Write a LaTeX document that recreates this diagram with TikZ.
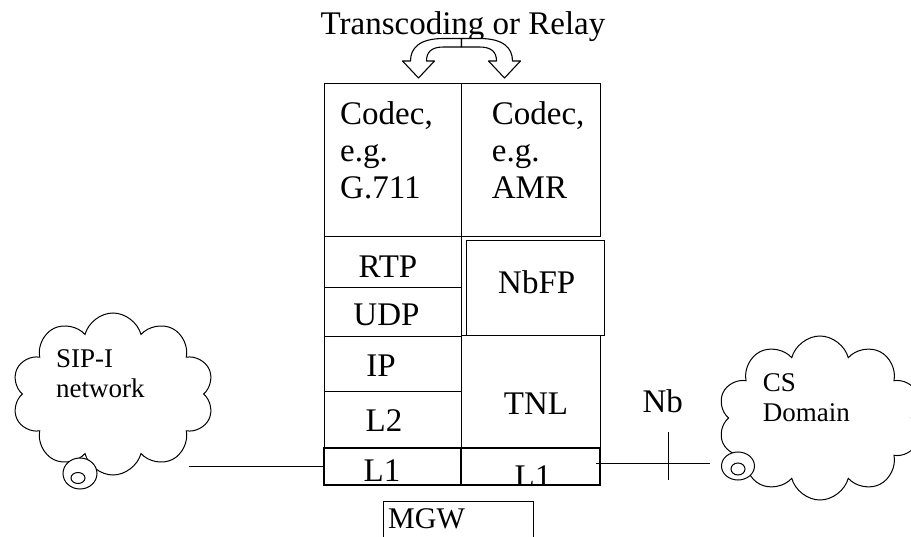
\documentclass[tikz,border=0pt]{standalone}
\usepackage{fontspec}
\setmainfont{Liberation Serif}
\usetikzlibrary{shapes.symbols}
\begin{document}
\begin{tikzpicture}[x=1pt,y=-1pt,
  box/.style={draw, line width=1pt, inner sep=0pt, minimum width=137pt},
  big/.style={font=\fontsize{33}{37}\selectfont, inner sep=0pt},
  small/.style={font=\fontsize{27}{30}\selectfont, inner sep=0pt},
  cloudy/.style={cloud, cloud puffs=10, cloud ignores aspect, draw, line width=1pt, fill=white, inner sep=0pt},
  curl/.style={draw, line width=1pt, fill=white},
  wire/.style={line width=1pt},
  blockarrow/.style={draw, line width=1.1pt, fill=white, line join=round}]
\useasboundingbox (0,0) rectangle (911,537);

% title and block arrows
\node[big, anchor=base] (title) at (463,35) {Transcoding or Relay};
\foreach \s in {1,-1}{
  \begin{scope}[shift={(461.5,0)}, xscale=\s]
    \path[blockarrow] (0,38.5) -- (-18,38.5) .. controls (-42,38.5) and (-51,48) .. (-51,61)
      -- (-59,61) -- (-43,78) -- (-27,61) -- (-35,61)
      .. controls (-35,52) and (-30,47) .. (-18,47) -- (0,47) -- cycle;
  \end{scope}
}

% protocol stack boxes
\node[box, minimum height=153pt] (codecL) at (392.5,160.5) {};
\node[box, minimum width=139pt, minimum height=153pt] (codecR) at (530.5,160.5) {};
\node[box, minimum height=51pt] (rtp) at (392.5,262.5) {};
\node[box, minimum height=49pt] (udp) at (392.5,312.5) {};
\node[box, minimum height=55pt] (ip) at (392.5,364.5) {};
\node[box, minimum height=56pt] (l2) at (392.5,420) {};
\node[box, minimum height=37pt, line width=1.3pt] (l1L) at (392.5,466.5) {};
\node[box, minimum width=138pt, minimum height=95pt] (nbfp) at (535,288.5) {};
\node[box, minimum width=139pt, minimum height=112pt] (tnl) at (530.5,392) {};
\node[box, minimum width=139pt, minimum height=37pt, line width=1.3pt] (l1R) at (530.5,466.5) {};
\node[box, minimum width=150pt, minimum height=44pt] (mgw) at (458,523) {};

% texts in boxes
\node[big, anchor=north west, align=left] (tcodecL) at (340,101.5) {Codec,\\e.g.\\G.711};
\node[big, anchor=north west, align=left] (tcodecR) at (491.7,101.5) {Codec,\\e.g.\\AMR};
\node[big, anchor=base] (trtp) at (388,278) {RTP};
\node[big, anchor=base] (tudp) at (386.5,326) {UDP};
\node[big, anchor=base] (tip) at (381,376.7) {IP};
\node[big, anchor=base] (tl2) at (384,431.7) {L2};
\node[big, anchor=base] (tl1L) at (382,481.7) {L1};
\node[big, anchor=base] (tnbfp) at (536.7,294) {NbFP};
\node[big, anchor=base] (ttnl) at (536,415) {TNL};
\begin{scope}
  \clip (461,448) rectangle (600,485);
  \node[big, anchor=base] (tl1R) at (533,487) {L1};
\end{scope}
\node[big, anchor=base west, font=\fontsize{30}{34}\selectfont] (tmgw) at (388,528) {MGW};

% clouds
\node[cloudy, minimum width=202pt, minimum height=162pt] (sip) at (113,394) {};
\node[cloudy, minimum width=204pt, minimum height=164pt] (cs) at (820,418) {};
\draw[curl] (80,473.5) ellipse [x radius=17, y radius=15.5];
\draw[curl] (78,478) ellipse [x radius=7, y radius=5.5];
\draw[curl] (738,466) ellipse [x radius=16.5, y radius=14];
\draw[curl] (738,469) ellipse [x radius=7, y radius=6];
\node[small, anchor=north west, align=left] (tsip) at (56,349.7) {SIP-I\\network};
\node[small, anchor=north west, align=left] (tcs) at (762.7,373.7) {CS\\Domain};

% connections
\coordinate (sipend) at (189,466);
\coordinate (csend) at (710,463);
\coordinate (r1) at (596,463);
\draw[wire] (sipend) -- (l1L.west |- sipend);
\draw[wire] (r1) -- (csend);
\coordinate (nbtop) at (668,432);
\coordinate (nbbot) at (668,480);
\draw[wire] (nbtop) -- (nbbot);
\node[big, anchor=base] (nb) at (662.7,413) {Nb};
\end{tikzpicture}
\end{document}
